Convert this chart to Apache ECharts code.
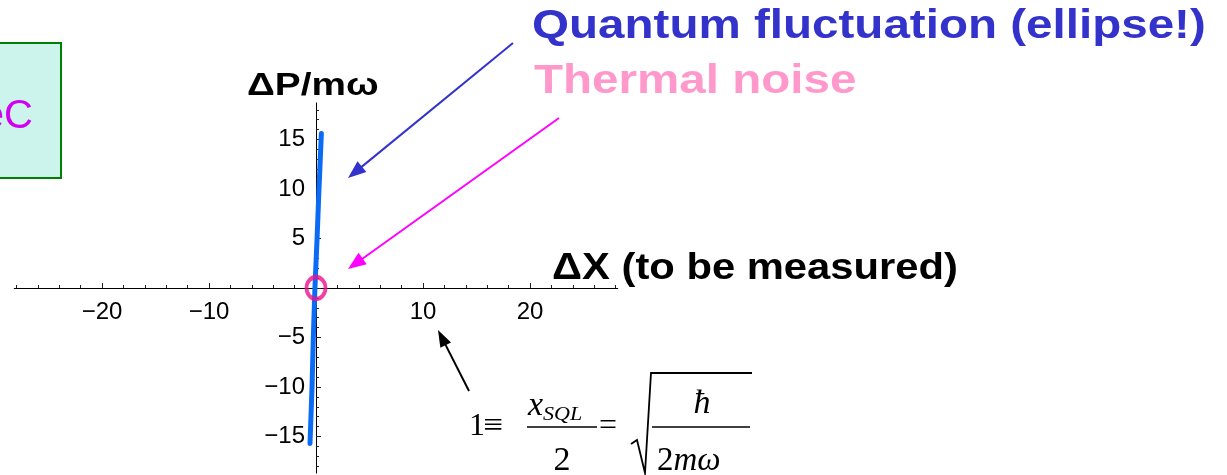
<!DOCTYPE html>
<html><head><meta charset="utf-8">
<script src="https://cdn.jsdelivr.net/npm/echarts@6/dist/echarts.min.js"></script>
<style>html,body{margin:0;padding:0;background:#fff}#c{width:1227px;height:475px}</style>
</head><body><div id="c"></div>
<script>
// ---- data ----
const curveX = [-0.56, -0.37, -0.25, -0.1, 0.1, 0.28, 0.5];
const curveY = [-15.7, -10, -5, 0, 5, 10, 15.6];
const noisePoint = [0, 0];
const xRange = [-28.2, 28.2];
const yRange = [-18.7, 18.7];
const xMinorRange = [-28, 28], xMinorStep = 2;
const xMajorRange = [-20, 20], xMajorStep = 10;
const yMinorRange = [-18, 18], yMinorStep = 1;
const yMajorRange = [-15, 15], yMajorStep = 5;
const xTickLabels = [-20, -10, 10, 20];
const yTickLabels = [-15, -10, -5, 5, 10, 15];

// ---- layout ----
const OX = 316, OY = 288, SX = 10.7, SY = 9.9;
const SANS = "'Liberation Sans', Arial, sans-serif";
const SERIF = "'Liberation Serif', 'Times New Roman', serif";
const fmt = v => String(v).replace('-', '\u2212');

function xg(r) { return { left: OX + r[0] * SX, width: (r[1] - r[0]) * SX, top: OY - 10, height: 10, outerBoundsMode: 'none', containLabel: false }; }
function yg(r) { return { left: OX, width: 10, top: OY - r[1] * SY, height: (r[1] - r[0]) * SY, outerBoundsMode: 'none', containLabel: false }; }

const grids = [
  { left: OX + xRange[0] * SX, width: (xRange[1] - xRange[0]) * SX, top: OY - yRange[1] * SY, height: (yRange[1] - yRange[0]) * SY, outerBoundsMode: 'none', containLabel: false },
  xg(xMinorRange), xg(xMajorRange), yg(yMinorRange), yg(yMajorRange)
];
const noSplit = { show: false };
const hidden = i => ({ gridIndex: i, type: 'value', show: false, min: 0, max: 1 });
const tickStyle = { color: '#222', width: 1 };
const labelStyle = { fontSize: 24, fontFamily: SANS, color: '#000' };

const xAxes = [
  { gridIndex: 0, type: 'value', min: xRange[0], max: xRange[1], axisLine: { onZero: true, lineStyle: { color: '#000', width: 1 } }, axisTick: { show: false }, axisLabel: { show: false }, splitLine: noSplit },
  { gridIndex: 1, type: 'value', position: 'bottom', min: xMinorRange[0], max: xMinorRange[1], interval: xMinorStep, axisLine: { show: false, onZero: false }, axisTick: { inside: true, length: 3, lineStyle: tickStyle }, axisLabel: { show: false }, splitLine: noSplit },
  { gridIndex: 2, type: 'value', position: 'bottom', min: xMajorRange[0], max: xMajorRange[1], interval: xMajorStep, axisLine: { show: false, onZero: false }, axisTick: { inside: true, length: 5, lineStyle: tickStyle },
    axisLabel: Object.assign({ margin: 12, formatter: v => xTickLabels.includes(v) ? fmt(v) : '' }, labelStyle), splitLine: noSplit },
  hidden(3), hidden(4)
];
const yAxes = [
  { gridIndex: 0, type: 'value', min: yRange[0], max: yRange[1], axisLine: { onZero: true, lineStyle: { color: '#000', width: 1 } }, axisTick: { show: false }, axisLabel: { show: false }, splitLine: noSplit },
  hidden(1), hidden(2),
  { gridIndex: 3, type: 'value', position: 'left', min: yMinorRange[0], max: yMinorRange[1], interval: yMinorStep, axisLine: { show: false, onZero: false }, axisTick: { inside: true, length: 3, lineStyle: tickStyle }, axisLabel: { show: false }, splitLine: noSplit },
  { gridIndex: 4, type: 'value', position: 'left', min: yMajorRange[0], max: yMajorRange[1], interval: yMajorStep, axisLine: { show: false, onZero: false }, axisTick: { inside: true, length: 5, lineStyle: tickStyle },
    axisLabel: Object.assign({ margin: 11, formatter: v => yTickLabels.includes(v) ? fmt(v) : '' }, labelStyle), splitLine: noSplit }
];

// ---- annotations ----
function arrow(x1, y1, x2, y2, color, w, hl, hw) {
  const dx = x2 - x1, dy = y2 - y1, L = Math.hypot(dx, dy), ux = dx / L, uy = dy / L;
  const bx = x2 - ux * hl, by = y2 - uy * hl;
  return [
    { type: 'line', shape: { x1: x1, y1: y1, x2: bx + ux * 2, y2: by + uy * 2 }, style: { stroke: color, lineWidth: w }, z: 10 },
    { type: 'polygon', shape: { points: [[x2, y2], [bx - uy * hw / 2, by + ux * hw / 2], [bx + uy * hw / 2, by - ux * hw / 2]] }, style: { fill: color }, z: 10 }
  ];
}
function txt(x, y, text, size, color, opts) {
  opts = opts || {};
  return { type: 'text', x: x, y: y, scaleX: opts.sx || 1, z: 10,
    style: { x: 0, y: 0, text: text, fontSize: size, fontFamily: opts.ff || SANS, fontWeight: opts.fw || 'normal', fontStyle: opts.fs || 'normal',
      fill: color, align: opts.align || 'left', verticalAlign: 'middle', rich: opts.rich } };
}
const graphics = [
  { type: 'rect', shape: { x: -3, y: 43, width: 64, height: 135 }, style: { fill: '#cdf4ec', stroke: '#008000', lineWidth: 2 }, z: 5 },
  txt(33, 117, 'eC', 40, '#d000f0', { align: 'right' }),
  txt(532, 27, 'Quantum fluctuation (ellipse!)', 41, '#3333cc', { fw: 'bold', sx: 1.16 }),
  txt(534, 82, 'Thermal noise', 41, '#ff99cc', { fw: 'bold', sx: 1.16 }),
  txt(247, 86, '\u0394P/m\u03c9', 31, '#000', { fw: 'bold', sx: 1.25 }),
  txt(552, 269, '\u0394X (to be measured)', 36, '#000', { fw: 'bold', sx: 1.16 }),
  ...arrow(513, 43, 348, 178, '#3333cc', 2, 18, 14),
  ...arrow(559, 118, 348, 269, '#ff00ff', 2, 18, 14),
  ...arrow(469, 391, 438, 330, '#000', 2, 17, 12),
  // formula
  txt(469, 427, '1', 32, '#000', { ff: SERIF }),
  txt(493, 427, '\u2261', 32, '#000', { ff: SERIF, align: 'center', sx: 1.1 }),
  txt(528, 406, 'x', 34, '#000', { ff: SERIF, fs: 'italic' }),
  txt(543, 415, 'SQL', 19, '#000', { ff: SERIF, fs: 'italic', sx: 1.16 }),
  { type: 'line', shape: { x1: 527, y1: 427, x2: 597, y2: 427 }, style: { stroke: '#000', lineWidth: 1.5 }, z: 10 },
  txt(562, 461, '2', 34, '#000', { ff: SERIF, align: 'center' }),
  txt(608, 427, '=', 32, '#000', { ff: SERIF, align: 'center' }),
  { type: 'polyline', shape: { points: [[631, 444], [637, 440], [645, 473], [651, 373], [752, 373]] }, style: { stroke: '#000', lineWidth: 1.8, fill: null }, z: 10 },
  txt(702, 404, '\u0127', 34, '#000', { ff: SERIF, fs: 'italic', align: 'center' }),
  { type: 'line', shape: { x1: 652, y1: 427, x2: 750, y2: 427 }, style: { stroke: '#000', lineWidth: 1.5 }, z: 10 },
  txt(657, 461, '{n|2}{i|m\u03c9}', 33, '#000', { ff: SERIF, rich: { n: { fontSize: 33, fontFamily: SERIF }, i: { fontSize: 33, fontFamily: SERIF, fontStyle: 'italic' } } })
];

const chart = echarts.init(document.getElementById('c'));
chart.setOption({
  animation: false,
  grid: grids,
  xAxis: xAxes,
  yAxis: yAxes,
  series: [
    { type: 'line', xAxisIndex: 0, yAxisIndex: 0, data: curveX.map((x, i) => [x, curveY[i]]), showSymbol: false, clip: false,
      lineStyle: { color: '#0a6cf5', width: 5, cap: 'round', join: 'round' }, z: 3 },
    { type: 'scatter', xAxisIndex: 0, yAxisIndex: 0, data: [noisePoint], symbol: 'circle', symbolSize: [19, 22], clip: false,
      itemStyle: { color: 'rgba(0,0,0,0)', borderColor: '#ee108c', borderWidth: 4 }, z: 4 }
  ],
  graphic: graphics
});
</script></body></html>
